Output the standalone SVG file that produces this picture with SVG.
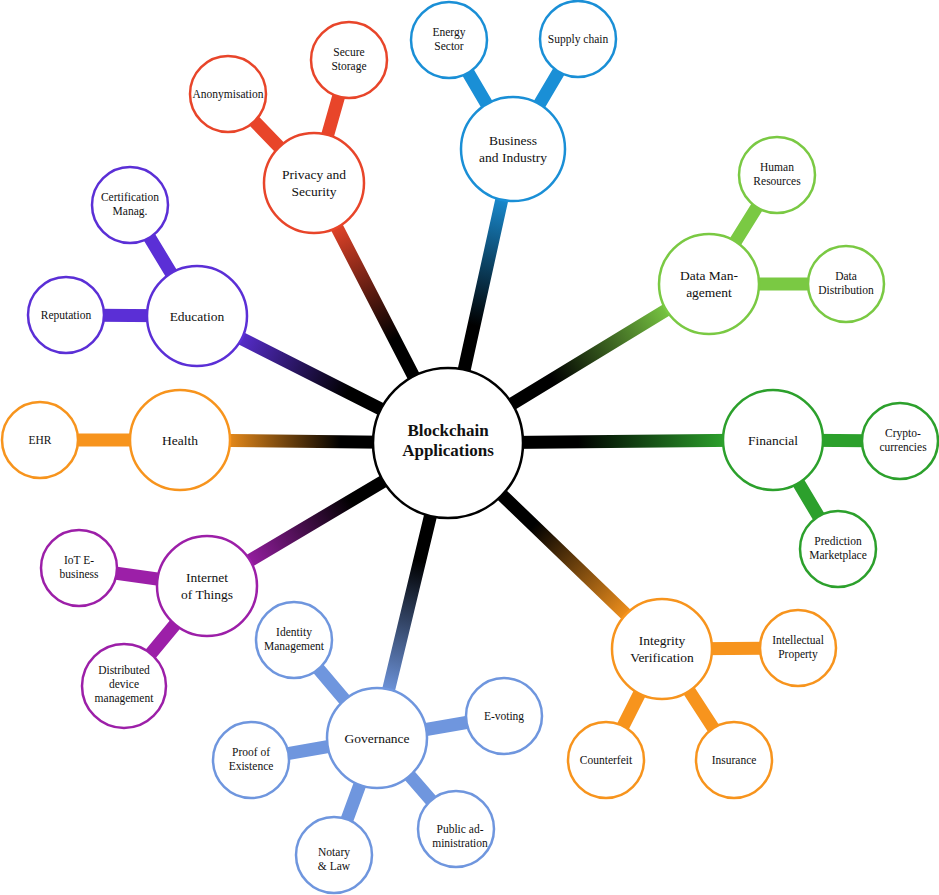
<svg xmlns="http://www.w3.org/2000/svg" width="939" height="895" viewBox="0 0 939 895">
<style>
text{font-family:"Liberation Serif",serif;text-anchor:middle;fill:#111}
.m{font-size:13.5px}.c{font-size:11.5px}
circle{fill:#fff;stroke-width:2.5}
.k line{stroke-width:13;stroke-linecap:round}
</style>
<defs>
<linearGradient id="gB" gradientUnits="userSpaceOnUse" x1="448" y1="443" x2="513" y2="149"><stop offset="0.4" stop-color="#000"/><stop offset="0.85" stop-color="#1a8fd6"/></linearGradient>
<linearGradient id="gP" gradientUnits="userSpaceOnUse" x1="448" y1="443" x2="314" y2="183"><stop offset="0.4" stop-color="#000"/><stop offset="0.85" stop-color="#e8452a"/></linearGradient>
<linearGradient id="gE" gradientUnits="userSpaceOnUse" x1="448" y1="443" x2="197" y2="316"><stop offset="0.4" stop-color="#000"/><stop offset="0.85" stop-color="#5b2fd6"/></linearGradient>
<linearGradient id="gH" gradientUnits="userSpaceOnUse" x1="448" y1="443" x2="180" y2="440"><stop offset="0.4" stop-color="#000"/><stop offset="0.85" stop-color="#f7941d"/></linearGradient>
<linearGradient id="gI" gradientUnits="userSpaceOnUse" x1="448" y1="443" x2="207" y2="586"><stop offset="0.4" stop-color="#000"/><stop offset="0.85" stop-color="#9c1fa8"/></linearGradient>
<linearGradient id="gG" gradientUnits="userSpaceOnUse" x1="448" y1="443" x2="377" y2="738"><stop offset="0.4" stop-color="#000"/><stop offset="0.85" stop-color="#6f96de"/></linearGradient>
<linearGradient id="gV" gradientUnits="userSpaceOnUse" x1="448" y1="443" x2="662" y2="649"><stop offset="0.4" stop-color="#000"/><stop offset="0.85" stop-color="#f7941d"/></linearGradient>
<linearGradient id="gF" gradientUnits="userSpaceOnUse" x1="448" y1="443" x2="773" y2="440"><stop offset="0.4" stop-color="#000"/><stop offset="0.85" stop-color="#2ca02c"/></linearGradient>
<linearGradient id="gD" gradientUnits="userSpaceOnUse" x1="448" y1="443" x2="709" y2="284"><stop offset="0.4" stop-color="#000"/><stop offset="0.85" stop-color="#7ac943"/></linearGradient>
</defs>
<g id="connectors" class="k">
<line x1="448" y1="443" x2="513" y2="149" stroke="url(#gB)"/>
<line x1="448" y1="443" x2="314" y2="183" stroke="url(#gP)"/>
<line x1="448" y1="443" x2="197" y2="316" stroke="url(#gE)"/>
<line x1="448" y1="443" x2="180" y2="440" stroke="url(#gH)"/>
<line x1="448" y1="443" x2="207" y2="586" stroke="url(#gI)"/>
<line x1="448" y1="443" x2="377" y2="738" stroke="url(#gG)"/>
<line x1="448" y1="443" x2="662" y2="649" stroke="url(#gV)"/>
<line x1="448" y1="443" x2="773" y2="440" stroke="url(#gF)"/>
<line x1="448" y1="443" x2="709" y2="284" stroke="url(#gD)"/>
<g stroke="#1a8fd6"><line x1="513" y1="149" x2="449" y2="40"/><line x1="513" y1="149" x2="578" y2="39"/></g>
<g stroke="#e8452a"><line x1="314" y1="183" x2="349" y2="60"/><line x1="314" y1="183" x2="228" y2="94"/></g>
<g stroke="#5b2fd6"><line x1="197" y1="316" x2="130" y2="205"/><line x1="197" y1="316" x2="66" y2="315"/></g>
<g stroke="#f7941d"><line x1="180" y1="440" x2="40" y2="440"/></g>
<g stroke="#9c1fa8"><line x1="207" y1="586" x2="79" y2="568"/><line x1="207" y1="586" x2="124" y2="686"/></g>
<g stroke="#6f96de"><line x1="377" y1="738" x2="294" y2="640"/><line x1="377" y1="738" x2="251" y2="760"/><line x1="377" y1="738" x2="334" y2="855"/><line x1="377" y1="738" x2="456" y2="829"/><line x1="377" y1="738" x2="504" y2="716"/></g>
<g stroke="#f7941d"><line x1="662" y1="649" x2="798" y2="648"/><line x1="662" y1="649" x2="606" y2="760"/><line x1="662" y1="649" x2="734" y2="760"/></g>
<g stroke="#2ca02c"><line x1="773" y1="440" x2="900" y2="441"/><line x1="773" y1="440" x2="838" y2="549"/></g>
<g stroke="#7ac943"><line x1="709" y1="284" x2="777" y2="175"/><line x1="709" y1="284" x2="846" y2="284"/></g>
</g>
<g id="center"><circle cx="448" cy="443" r="75" stroke="#000"/><text x="448" y="436" style="font-size:17px;font-weight:bold">Blockchain</text><text x="448" y="456" style="font-size:17px;font-weight:bold">Applications</text></g>
<g id="business" stroke="#1a8fd6"><circle cx="513" cy="149" r="52"/><text class="m" x="513" y="145" stroke="none">Business</text><text class="m" x="513" y="162" stroke="none">and Industry</text></g>
<g id="energy" stroke="#1a8fd6"><circle cx="449" cy="40" r="38"/><text class="c" x="449" y="36" stroke="none">Energy</text><text class="c" x="449" y="50" stroke="none">Sector</text></g>
<g id="supply" stroke="#1a8fd6"><circle cx="578" cy="39" r="38"/><text class="c" x="578" y="43" stroke="none">Supply chain</text></g>
<g id="privacy" stroke="#e8452a"><circle cx="314" cy="183" r="50"/><text class="m" x="314" y="179" stroke="none">Privacy and</text><text class="m" x="314" y="196" stroke="none">Security</text></g>
<g id="secure" stroke="#e8452a"><circle cx="349" cy="60" r="38"/><text class="c" x="349" y="56" stroke="none">Secure</text><text class="c" x="349" y="70" stroke="none">Storage</text></g>
<g id="anon" stroke="#e8452a"><circle cx="228" cy="94" r="38"/><text class="c" x="228" y="98" stroke="none">Anonymisation</text></g>
<g id="education" stroke="#5b2fd6"><circle cx="197" cy="316" r="50"/><text class="m" x="197" y="321" stroke="none">Education</text></g>
<g id="cert" stroke="#5b2fd6"><circle cx="130" cy="205" r="38"/><text class="c" x="130" y="201" stroke="none">Certification</text><text class="c" x="130" y="215" stroke="none">Manag.</text></g>
<g id="reputation" stroke="#5b2fd6"><circle cx="66" cy="315" r="38"/><text class="c" x="66" y="319" stroke="none">Reputation</text></g>
<g id="health" stroke="#f7941d"><circle cx="180" cy="440" r="50"/><text class="m" x="180" y="445" stroke="none">Health</text></g>
<g id="ehr" stroke="#f7941d"><circle cx="40" cy="440" r="38"/><text class="c" x="40" y="444" stroke="none">EHR</text></g>
<g id="iot" stroke="#9c1fa8"><circle cx="207" cy="586" r="50"/><text class="m" x="207" y="582" stroke="none">Internet</text><text class="m" x="207" y="599" stroke="none">of Things</text></g>
<g id="iotebiz" stroke="#9c1fa8"><circle cx="79" cy="568" r="38"/><text class="c" x="79" y="564" stroke="none">IoT E-</text><text class="c" x="79" y="578" stroke="none">business</text></g>
<g id="distributed" stroke="#9c1fa8"><circle cx="124" cy="686" r="42"/><text class="c" x="124" y="674" stroke="none">Distributed</text><text class="c" x="124" y="688" stroke="none">device</text><text class="c" x="124" y="702" stroke="none">management</text></g>
<g id="governance" stroke="#6f96de"><circle cx="377" cy="738" r="50"/><text class="m" x="377" y="743" stroke="none">Governance</text></g>
<g id="identity" stroke="#6f96de"><circle cx="294" cy="640" r="38"/><text class="c" x="294" y="636" stroke="none">Identity</text><text class="c" x="294" y="650" stroke="none">Management</text></g>
<g id="proof" stroke="#6f96de"><circle cx="251" cy="760" r="38"/><text class="c" x="251" y="756" stroke="none">Proof of</text><text class="c" x="251" y="770" stroke="none">Existence</text></g>
<g id="notary" stroke="#6f96de"><circle cx="334" cy="855" r="38"/><text class="c" x="334" y="856" stroke="none">Notary</text><text class="c" x="334" y="870" stroke="none">&amp; Law</text></g>
<g id="public" stroke="#6f96de"><circle cx="456" cy="829" r="38"/><text class="c" x="460" y="833" stroke="none">Public ad-</text><text class="c" x="460" y="847" stroke="none">ministration</text></g>
<g id="evoting" stroke="#6f96de"><circle cx="504" cy="716" r="38"/><text class="c" x="504" y="720" stroke="none">E-voting</text></g>
<g id="integrity" stroke="#f7941d"><circle cx="662" cy="649" r="50"/><text class="m" x="662" y="645" stroke="none">Integrity</text><text class="m" x="662" y="662" stroke="none">Verification</text></g>
<g id="ip" stroke="#f7941d"><circle cx="798" cy="648" r="38"/><text class="c" x="798" y="644" stroke="none">Intellectual</text><text class="c" x="798" y="658" stroke="none">Property</text></g>
<g id="counterfeit" stroke="#f7941d"><circle cx="606" cy="760" r="38"/><text class="c" x="606" y="764" stroke="none">Counterfeit</text></g>
<g id="insurance" stroke="#f7941d"><circle cx="734" cy="760" r="38"/><text class="c" x="734" y="764" stroke="none">Insurance</text></g>
<g id="financial" stroke="#2ca02c"><circle cx="773" cy="440" r="50"/><text class="m" x="773" y="445" stroke="none">Financial</text></g>
<g id="crypto" stroke="#2ca02c"><circle cx="900" cy="441" r="38"/><text class="c" x="903" y="437" stroke="none">Crypto-</text><text class="c" x="903" y="451" stroke="none">currencies</text></g>
<g id="prediction" stroke="#2ca02c"><circle cx="838" cy="549" r="38"/><text class="c" x="838" y="545" stroke="none">Prediction</text><text class="c" x="838" y="559" stroke="none">Marketplace</text></g>
<g id="datamgmt" stroke="#7ac943"><circle cx="709" cy="284" r="50"/><text class="m" x="709" y="280" stroke="none">Data Man-</text><text class="m" x="709" y="297" stroke="none">agement</text></g>
<g id="hr" stroke="#7ac943"><circle cx="777" cy="175" r="38"/><text class="c" x="777" y="171" stroke="none">Human</text><text class="c" x="777" y="185" stroke="none">Resources</text></g>
<g id="datadist" stroke="#7ac943"><circle cx="846" cy="284" r="38"/><text class="c" x="846" y="280" stroke="none">Data</text><text class="c" x="846" y="294" stroke="none">Distribution</text></g>
</svg>
